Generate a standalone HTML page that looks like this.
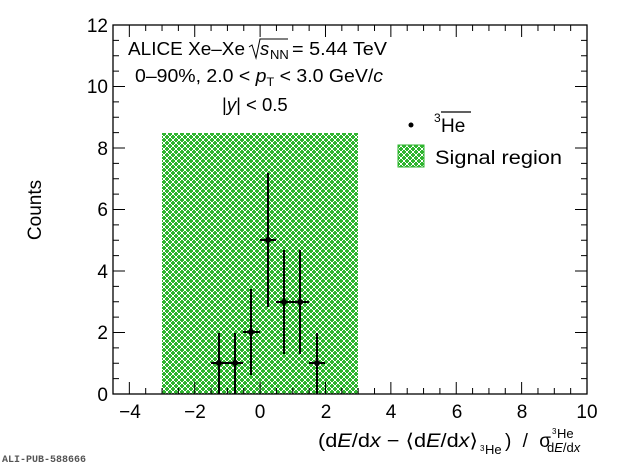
<!DOCTYPE html>
<html><head><meta charset="utf-8"><style>
body{margin:0;background:#fff}
svg{display:block;font-family:"Liberation Sans",sans-serif}
</style></head><body>
<svg width="620" height="467" viewBox="0 0 620 467" xmlns="http://www.w3.org/2000/svg">
<defs>
<pattern id="h" width="6" height="6" patternUnits="userSpaceOnUse">
<rect width="6" height="6" fill="#fff"/>
<path d="M1 0h2v1h1v2h-1v1h-2v-1h-1v-2h1z" fill="#2fb52f"/>
<path d="M4 3h2v1h1v2h-1v1h-2v-1h-1v-2h1z" fill="#2fb52f"/>
<path d="M-2 3h2v1h1v2h-1v1h-2z" fill="#2fb52f"/>
<path d="M1 6h2v1h-2z" fill="#2fb52f"/>
<path d="M4 -3h2v1h1v2h-1v1h-2v-1h-1v-2h1z" fill="#2fb52f"/>
</pattern>
</defs>
<rect x="162" y="133" width="196" height="261" fill="url(#h)"/>
<rect x="113" y="25" width="474" height="369" stroke="#000" stroke-width="1.3" fill="none"/>
<g id="ticks" stroke="#000" stroke-width="1"></g>
<g font-size="19" text-anchor="middle">
<text x="130" y="418">−4</text><text x="195" y="418">−2</text><text x="260" y="418">0</text>
<text x="326" y="418">2</text><text x="391" y="418">4</text><text x="457" y="418">6</text>
<text x="522" y="418">8</text><text x="587" y="418">10</text>
</g>
<g font-size="19" text-anchor="end">
<text x="108" y="401">0</text><text x="108" y="339">2</text><text x="108" y="278">4</text>
<text x="108" y="216">6</text><text x="108" y="155">8</text><text x="108" y="93">10</text><text x="108" y="32">12</text>
</g>
<text transform="translate(41,210) rotate(-90)" font-size="19" text-anchor="middle">Counts</text>
<text x="318" y="447" font-size="19" textLength="160" lengthAdjust="spacingAndGlyphs">(d<tspan font-style="italic">E</tspan>/d<tspan font-style="italic">x</tspan> − ⟨d<tspan font-style="italic">E</tspan>/d<tspan font-style="italic">x</tspan>⟩</text>
<text x="480" y="451" font-size="8">3</text><text x="485" y="454" font-size="13">He</text>
<text x="505" y="447" font-size="19" textLength="46" lengthAdjust="spacing">) / σ</text>
<text x="552" y="434" font-size="8">3</text><text x="557" y="438" font-size="13">He</text>
<text x="547" y="452" font-size="13">d<tspan font-style="italic">E</tspan>/d<tspan font-style="italic">x</tspan></text>
<text x="2" y="462" font-size="10" font-family="Liberation Mono,monospace" font-weight="bold" fill="#555">ALI-PUB-588666</text>
<g font-size="18.5">
<text x="128" y="55" textLength="117" lengthAdjust="spacingAndGlyphs">ALICE Xe–Xe</text>
<path d="M249 47 L252 45 L256 58 L260 39 L288 39" stroke="#000" stroke-width="1" fill="none"/>
<text x="260" y="55" font-style="italic">s</text><text x="270" y="59" font-size="13">NN</text>
<text x="292" y="55" textLength="95" lengthAdjust="spacingAndGlyphs">= 5.44 TeV</text>
<text x="135" y="82" textLength="248" lengthAdjust="spacingAndGlyphs">0–90%, 2.0 &lt; <tspan font-style="italic">p</tspan><tspan font-size="12" dy="4">T</tspan><tspan dy="-4"> &lt; 3.0 GeV/</tspan><tspan font-style="italic">c</tspan></text>
<text x="222" y="111">|<tspan font-style="italic">y</tspan>| &lt; 0.5</text>
</g>
<circle cx="411" cy="125" r="2.5" fill="#000"/>
<text x="434" y="122" font-size="12">3</text>
<text x="441" y="132" font-size="19">He</text>
<line x1="441" y1="112" x2="471" y2="112" stroke="#000" stroke-width="1.2"/>
<rect x="398" y="145" width="26" height="22" fill="url(#h)" stroke="#2fb52f"/>
<text x="435" y="164" font-size="19" textLength="127" lengthAdjust="spacingAndGlyphs">Signal region</text>
<g stroke="#000" stroke-width="2">
<path d="M211 363H227M219 394V333"/>
<path d="M227 363H243M235 394V333"/>
<path d="M243 332H260M251 375V289"/>
<path d="M260 240H276M268 307V173"/>
<path d="M276 302H292M284 354V250"/>
<path d="M292 302H309M300 354V250"/>
<path d="M309 363H325M317 394V333"/>
</g>
<g fill="#000">
<circle cx="219" cy="363" r="3"/><circle cx="235" cy="363" r="3"/><circle cx="251" cy="332" r="3"/>
<circle cx="268" cy="240" r="3"/><circle cx="284" cy="302" r="3"/><circle cx="300" cy="302" r="3"/><circle cx="317" cy="363" r="3"/>
</g>
<script>
var g=document.getElementById('ticks'),d='';
for(var i=0;i<=29;i++){var v=-4.5+i*0.5,x=113+(v+4.5)*32.69,L=(Math.abs(v%2)<1e-6)?12:6;
d+='M'+x+' 394v-'+L+'M'+x+' 25v'+L;}
for(var j=0;j<=24;j++){var y=394-j*15.375,L=(j%4==0)?12:6;
d+='M113 '+y+'h'+L+'M587 '+y+'h-'+L;}
var p=document.createElementNS('http://www.w3.org/2000/svg','path');p.setAttribute('d',d);g.appendChild(p);
</script>
</svg>
</body></html>
